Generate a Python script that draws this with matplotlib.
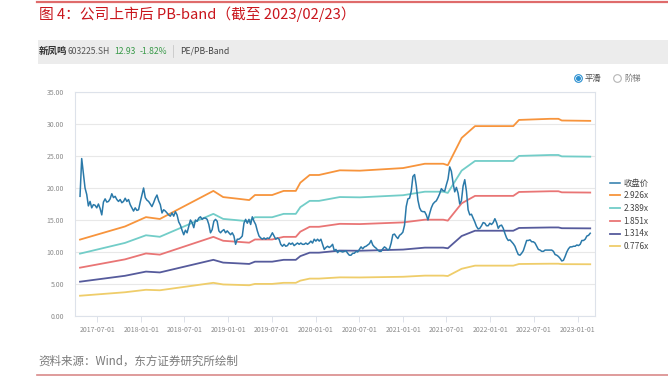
import matplotlib
matplotlib.use("Agg")
import matplotlib.pyplot as plt
from matplotlib.patches import Rectangle
from matplotlib.lines import Line2D
import pandas as pd

plt.rcParams["font.family"] = ["Noto Sans CJK SC", "DejaVu Sans"]

W, H = 668, 380

# weekly close of 新凤鸣 (603225.SH)
close = [
    18.7, 24.6, 22.3, 20.0, 19.0, 17.2, 17.9, 16.9, 17.4, 17.3,
    16.9, 17.5, 16.8, 15.8, 17.8, 18.3, 17.8, 17.9, 18.3, 19.1,
    18.5, 18.7, 18.2, 17.9, 18.2, 17.7, 17.9, 18.4, 17.9, 18.2,
    17.4, 16.9, 16.4, 16.9, 16.5, 16.6, 17.8, 18.9, 20.0, 18.5,
    18.1, 17.9, 17.5, 17.1, 17.7, 18.4, 18.9, 18.0, 17.4, 16.1,
    16.6, 16.4, 16.1, 15.8, 15.6, 16.1, 15.6, 16.3, 15.8, 14.7,
    14.2, 13.4, 12.7, 13.4, 13.0, 14.0, 15.0, 14.6, 13.8, 15.0,
    14.8, 15.3, 15.5, 15.1, 15.3,
    15.3, 15.1, 14.3, 13.0, 13.5,
    14.8, 15.1, 14.8, 13.3, 13.0, 13.3, 13.5, 13.0, 13.3, 13.0,
    12.7, 13.0, 12.5, 11.2, 12.0, 12.0, 12.2, 12.5, 14.5, 15.1,
    14.5, 15.1, 14.3, 15.5, 14.8, 14.3, 13.3, 12.5, 12.2, 12.0,
    12.2, 12.0, 12.2, 12.1, 12.5, 13.0, 12.5, 12.0, 12.2, 12.0,
    11.2, 10.9, 11.2, 10.9, 11.0, 11.4, 11.2, 11.4, 11.0, 11.2,
    11.4, 11.2, 11.4, 11.2, 11.2, 11.4, 11.2, 11.4, 11.7, 11.4,
    12.0, 11.7, 12.0, 11.7, 12.0, 11.2, 10.4, 10.7, 10.9, 10.7,
    10.9, 11.2, 10.2, 10.4, 9.9, 10.2,
    10.1, 10.0, 10.1, 10.2, 9.8, 9.5, 9.5, 9.8, 9.8, 10.1,
    10.0, 10.4, 10.8, 10.5, 10.8, 10.9, 11.1, 11.3, 11.8, 11.1,
    10.8, 10.6, 10.3, 10.1, 10.1, 10.5, 10.8, 10.6, 10.3, 10.5,
    11.4, 12.7, 12.8, 12.4, 12.1, 12.6, 12.8, 13.1, 14.2, 17.1,
    18.3, 18.4, 19.5, 21.8, 22.1, 20.4, 18.1, 16.9, 16.4, 16.3,
    16.3, 15.8, 15.0, 16.0, 16.9, 17.5, 17.8, 18.0, 18.5, 19.1,
    19.9, 19.6, 19.5, 20.5, 21.4, 23.3, 22.6, 20.8, 19.4, 20.1,
    19.2, 17.5, 18.0, 20.3, 21.3, 19.5, 16.6, 15.8, 15.9, 15.3,
    14.7, 14.0, 13.6, 13.7, 14.1, 14.6, 14.5, 14.1, 14.1, 14.5,
    14.3, 14.6, 15.2, 14.6, 13.7, 14.1, 14.2, 13.7, 12.9, 12.2,
    11.8, 11.9, 11.6, 11.3, 10.9, 10.2, 9.6, 9.5, 9.8, 10.2,
    11.0, 11.8, 11.8, 11.9, 11.6, 11.6, 11.4, 10.9, 10.4, 10.3,
    10.1, 10.1, 10.3, 10.3, 10.3, 10.3, 10.3, 10.1, 9.6, 9.5,
    9.3, 9.0, 8.6, 8.7, 9.3, 10.0, 10.5, 10.8, 10.8, 10.9,
    10.9, 11.1, 11.0, 11.2, 11.8, 11.8, 12.0, 12.5, 12.6, 12.93,
]
close_dates = pd.date_range(end="2023-02-23", periods=len(close), freq="7D")

# book value per share behind the bands (smooth mode)
bps_dates = pd.to_datetime([
    "2017-04-20", "2017-10-25", "2018-01-21", "2018-03-20", "2018-10-30",
    "2018-12-10", "2019-02-04", "2019-03-29", "2019-04-22", "2019-07-03",
    "2019-08-20", "2019-10-10", "2019-10-29", "2019-12-07", "2020-01-15",
    "2020-04-11", "2020-07-04", "2021-01-01", "2021-04-02", "2021-06-18",
    "2021-07-07", "2021-09-03", "2021-10-29", "2022-04-07", "2022-05-01",
    "2022-09-08", "2022-10-13", "2022-10-27", "2023-02-23",
])
bps = [
    4.08, 4.78, 5.28, 5.18, 6.68,
    6.35, 6.27, 6.19, 6.46, 6.46,
    6.68, 6.68, 7.12, 7.53, 7.53,
    7.78, 7.76, 7.90, 8.13, 8.13,
    8.05, 9.51, 10.14, 10.14, 10.47,
    10.53, 10.53, 10.44, 10.42,
]
multiples = [2.926, 2.389, 1.851, 1.314, 0.776]
band_colors = ["#f7943c", "#72cdc8", "#e97575", "#565b9c", "#efcd6a"]
price_color = "#2a79a9"

x_ticks = pd.date_range("2017-07-01", "2023-01-01", freq="6MS")
y_ticks = [0, 5, 10, 15, 20, 25, 30, 35]


def fx(x):
    return x / W


def fy(y):
    return 1 - y / H


fig = plt.figure(figsize=(W / 100, H / 100), dpi=100)
fig.set_facecolor("white")

# report frame: red rules, title, source
fig.add_artist(Line2D([fx(37), 1], [fy(1.5)] * 2, color="#df6b6b", lw=1.6))
fig.add_artist(Line2D([fx(37), 1], [fy(375)] * 2, color="#d98a8a", lw=1.2))
fig.text(fx(39), fy(14.5), "图 4：公司上市后 PB-band（截至 2023/02/23）",
         color="#c9161d", fontsize=10.6, fontweight="medium", va="center", ha="left")
fig.text(fx(38), fy(361), "资料来源：Wind，东方证券研究所绘制",
         color="#7a7a7a", fontsize=8.3, va="center", ha="left")

# Wind header bar
fig.add_artist(Rectangle((fx(38), fy(64)), 1 - fx(38), (64 - 40) / H,
                         transform=fig.transFigure, facecolor="#ececec", edgecolor="none"))
hy = fy(51)
fig.text(fx(39), hy, "新凤鸣", fontsize=6.8, fontweight="bold", color="#333333", va="center")
fig.text(fx(68), hy, "603225.SH", fontsize=6.2, color="#555555", va="center")
fig.text(fx(114), hy, "12.93", fontsize=6.2, color="#3a9a4a", va="center")
fig.text(fx(140), hy, "-1.82%", fontsize=6.2, color="#3a9a4a", va="center")
fig.add_artist(Line2D([fx(173)] * 2, [fy(45), fy(57)], color="#c8c8c8", lw=0.6))
fig.text(fx(180), hy, "PE/PB-Band", fontsize=6.2, color="#444444", va="center")

# smooth / step radio
ry = fy(78)
fig.add_artist(Line2D([fx(578)], [ry], marker="o", markersize=5.5, markerfacecolor="white",
                      markeredgecolor="#2a8fd0", markeredgewidth=0.8, transform=fig.transFigure))
fig.add_artist(Line2D([fx(578)], [ry], marker="o", markersize=2.6, color="#2a8fd0",
                      transform=fig.transFigure))
fig.text(fx(585), ry, "平滑", fontsize=6, color="#444444", va="center")
fig.add_artist(Line2D([fx(617)], [ry], marker="o", markersize=5.5, markerfacecolor="white",
                      markeredgecolor="#b5b5b5", markeredgewidth=0.8, transform=fig.transFigure))
fig.text(fx(624), ry, "阶梯", fontsize=6, color="#777777", va="center")

# chart
ax = fig.add_axes([fx(75), fy(316), (595 - 75) / W, (316 - 92) / H])
ax.set_facecolor("white")

ax.plot(close_dates, close, color=price_color, lw=1.1, label="收盘价", zorder=4)
for m, c in zip(multiples, band_colors):
    ax.plot(bps_dates, [b * m for b in bps], color=c, lw=1.3, label=f"{m:.3f}x", zorder=3)

ax.set_xlim(pd.Timestamp("2017-03-30"), pd.Timestamp("2023-03-15"))
ax.set_ylim(0, 35)
ax.set_yticks(y_ticks)
ax.set_yticklabels([f"{v:.2f}" for v in y_ticks])
ax.set_xticks(x_ticks)
ax.set_xticklabels([d.strftime("%Y-%m-%d") for d in x_ticks])
ax.grid(axis="y", color="#e8e8e8", lw=0.8, zorder=0)
ax.tick_params(axis="y", length=0, labelsize=5, labelcolor="#8a8a8a", pad=8)
ax.tick_params(axis="x", length=4, width=0.6, color="#d8dde6", labelsize=5,
               labelcolor="#8a8a8a", pad=3)
for s in ax.spines.values():
    s.set_color("#dde2ea")
    s.set_linewidth(0.8)

fig.legend(loc="upper left", bbox_to_anchor=(fx(602), fy(171)), frameon=False,
           fontsize=6, handlelength=1.2, handletextpad=0.5, labelspacing=0.45,
           labelcolor="#444444")

fig.savefig("out.png", dpi=100, facecolor="white")
